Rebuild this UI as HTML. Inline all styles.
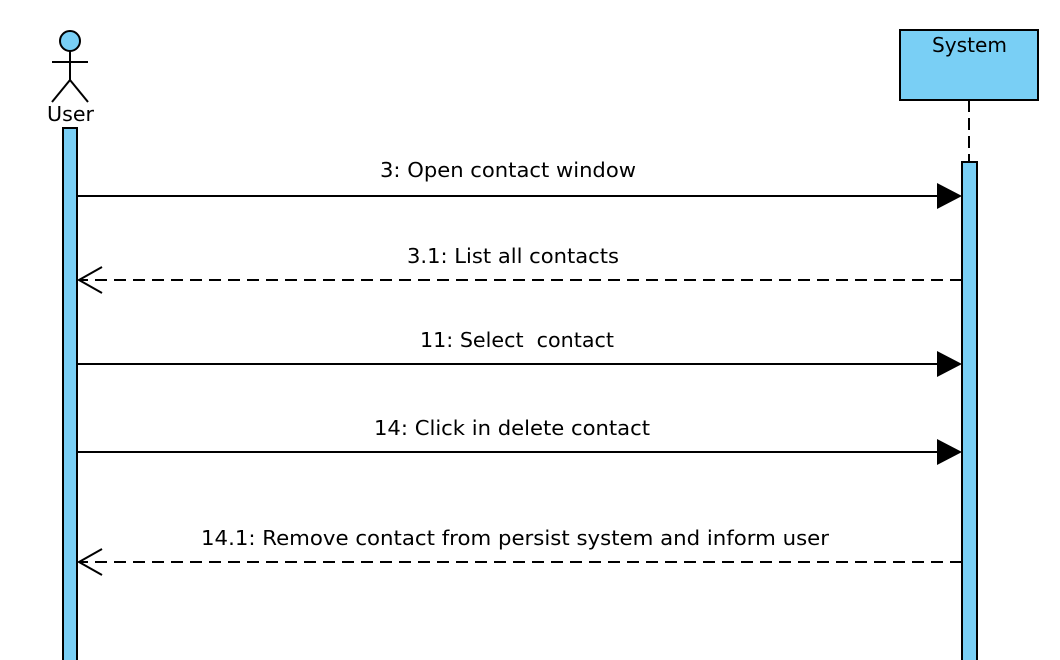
<!DOCTYPE html>
<html><head><style>body{margin:0;background:#fff}svg{display:block}text{font-family:"DejaVu Sans","Liberation Sans",sans-serif;font-size:20px;fill:#000}</style></head>
<body>
<svg width="1060" height="660" viewBox="0 0 1060 660">
<circle cx="70" cy="41" r="10" fill="#79cff5" stroke="#000" stroke-width="2"/>
<g stroke="#000" stroke-width="2" fill="none">
<line x1="70" y1="51" x2="70" y2="81"/><line x1="52" y1="62" x2="88" y2="62"/>
<line x1="70" y1="80" x2="52" y2="102"/><line x1="70" y1="80" x2="88" y2="102"/>
</g>
<text x="47" y="121" textLength="47" lengthAdjust="spacingAndGlyphs">User</text>
<rect x="63" y="128" width="14" height="540" fill="#79cff5" stroke="#000" stroke-width="2"/>
<rect x="900" y="30" width="138" height="70" fill="#79cff5" stroke="#000" stroke-width="2"/>
<text x="932" y="52" textLength="75" lengthAdjust="spacingAndGlyphs">System</text>
<line x1="969" y1="100" x2="969" y2="162" stroke="#000" stroke-width="2" stroke-dasharray="12,6"/>
<rect x="962" y="162" width="15" height="510" fill="#79cff5" stroke="#000" stroke-width="2"/>
<g stroke="#000" stroke-width="2" fill="none">
<line x1="78" y1="196" x2="940" y2="196"/>
<line x1="962" y1="280" x2="80" y2="280" stroke-dasharray="12,7"/>
<polyline points="102,267 79,280 102,293"/>
<line x1="78" y1="364" x2="940" y2="364"/>
<line x1="78" y1="452" x2="940" y2="452"/>
<line x1="962" y1="562" x2="80" y2="562" stroke-dasharray="12,7"/>
<polyline points="102,549 79,562 102,575"/>
</g>
<polygon points="937,183 962,196 937,209" fill="#000"/>
<polygon points="937,351 962,364 937,377" fill="#000"/>
<polygon points="937,439 962,452 937,465" fill="#000"/>
<text x="380" y="177" textLength="256" lengthAdjust="spacingAndGlyphs">3: Open contact window</text>
<text x="407" y="263" textLength="212" lengthAdjust="spacingAndGlyphs">3.1: List all contacts</text>
<text x="420" y="347" textLength="194" lengthAdjust="spacingAndGlyphs" xml:space="preserve">11: Select  contact</text>
<text x="374" y="435" textLength="276" lengthAdjust="spacingAndGlyphs">14: Click in delete contact</text>
<text x="201" y="545" textLength="628" lengthAdjust="spacingAndGlyphs">14.1: Remove contact from persist system and inform user</text>
</svg>
</body></html>
